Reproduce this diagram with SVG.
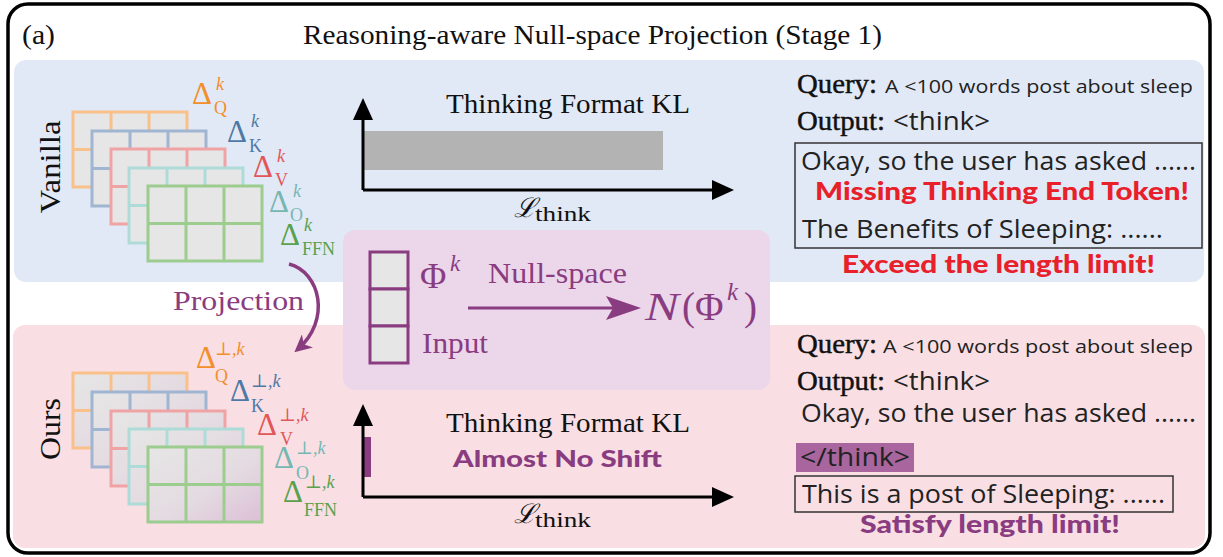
<svg xmlns="http://www.w3.org/2000/svg" width="1223" height="557" viewBox="0 0 1223 557">
  <style>
    .serif { font-family: "Liberation Serif", "DejaVu Serif", serif; fill: #111; }
    .lbl { stroke: #111; stroke-width: 0.45; }
    .sans { font-family: "Open Sans", "Lato", "DejaVu Sans", sans-serif; fill: #222; }
    .hand { font-family: "Lato", "DejaVu Sans", sans-serif; font-weight: 900; }
    .red { fill: #e8202a; }
    .plum { fill: #8a3c80; }
    .d { font-family: "Liberation Serif", "DejaVu Serif", serif; font-size: 31px; }
    .sup { font-size: 18px; font-style: italic; }
    .sub { font-size: 18px; }
    .grid { stroke-width: 3; }
    .axis { stroke: #000; stroke-width: 3; fill: none; }
    .box { fill: none; stroke: #333; stroke-width: 1.5; }
  </style>
  <defs>
    <linearGradient id="proj-fill" x1="0" y1="0" x2="1" y2="1">
      <stop offset="0" stop-color="#e6e6e6"/>
      <stop offset="0.55" stop-color="#e4dbe1"/>
      <stop offset="1" stop-color="#dcbfd6"/>
    </linearGradient>
    <marker id="plum-head" viewBox="0 0 10 10" refX="8" refY="5" markerWidth="5" markerHeight="5" orient="auto">
      <path d="M0,0 L10,5 L0,10 L3,5 Z" fill="#8a3c80"/>
    </marker>
    <!-- 3x2 weight matrix -->
    <g id="mat-grid">
      <line x1="38" y1="0" x2="38" y2="75"/>
      <line x1="76" y1="0" x2="76" y2="75"/>
      <line x1="0" y1="37.5" x2="114" y2="37.5"/>
    </g>
  </defs>

  <!-- outer frame -->
  <rect x="8" y="4" width="1202" height="549" rx="20" fill="#fff" stroke="#000" stroke-width="3.5"/>

  <!-- title -->
  <text class="serif" x="22" y="44" font-size="27" textLength="33" lengthAdjust="spacingAndGlyphs">(a)</text>
  <text class="serif" x="303" y="44" font-size="28" textLength="579" lengthAdjust="spacingAndGlyphs">Reasoning-aware Null-space Projection (Stage 1)</text>

  <!-- background panels -->
  <rect id="panel-vanilla" x="14" y="60" width="1190" height="222" rx="12" fill="#e2e9f6"/>
  <rect id="panel-ours" x="13" y="325" width="1192" height="223" rx="12" fill="#f9dfe4"/>

  <!-- Vanilla weight stack -->
  <g id="vanilla-stack" class="grid">
    <g transform="translate(73,112)" stroke="#f9c08a"><rect width="114" height="75" fill="#e6e6e6"/><use href="#mat-grid"/></g>
    <g transform="translate(92,131)" stroke="#9fb5d2"><rect width="114" height="75" fill="#e6e6e6"/><use href="#mat-grid"/></g>
    <g transform="translate(111,149)" stroke="#f0a3a5"><rect width="114" height="75" fill="#e6e6e6"/><use href="#mat-grid"/></g>
    <g transform="translate(129,168)" stroke="#addcd8"><rect width="114" height="75" fill="#e6e6e6"/><use href="#mat-grid"/></g>
    <g transform="translate(148,186)" stroke="#9ccc8e"><rect width="114" height="75" fill="#e6e6e6"/><use href="#mat-grid"/></g>
  </g>
  <text class="serif" font-size="30" text-anchor="middle" textLength="93" lengthAdjust="spacingAndGlyphs" transform="translate(60,167) rotate(-90)">Vanilla</text>

  <g id="vanilla-labels">
    <text class="d" fill="#f28e2b" x="192" y="104">Δ<tspan class="sup" x="216" y="90">k</tspan><tspan class="sub" x="214" y="114">Q</tspan></text>
    <text class="d" fill="#4e79a7" x="227" y="142">Δ<tspan class="sup" x="251" y="127">k</tspan><tspan class="sub" x="249" y="152">K</tspan></text>
    <text class="d" fill="#e15759" x="253" y="177">Δ<tspan class="sup" x="277" y="162">k</tspan><tspan class="sub" x="275" y="186">V</tspan></text>
    <text class="d" fill="#76b7b2" x="269" y="212">Δ<tspan class="sup" x="293" y="197">k</tspan><tspan class="sub" x="290" y="221">O</tspan></text>
    <text class="d" fill="#59a14f" x="280" y="245">Δ<tspan class="sup" x="304" y="231">k</tspan><tspan class="sub" x="302" y="255">FFN</tspan></text>
  </g>

  <!-- Ours weight stack -->
  <g id="ours-stack" class="grid">
    <g transform="translate(73,373)" stroke="#f9c08a"><rect width="114" height="75" fill="url(#proj-fill)"/><use href="#mat-grid"/></g>
    <g transform="translate(92,392)" stroke="#9fb5d2"><rect width="114" height="75" fill="url(#proj-fill)"/><use href="#mat-grid"/></g>
    <g transform="translate(111,411)" stroke="#f0a3a5"><rect width="114" height="75" fill="url(#proj-fill)"/><use href="#mat-grid"/></g>
    <g transform="translate(129,429)" stroke="#addcd8"><rect width="114" height="75" fill="url(#proj-fill)"/><use href="#mat-grid"/></g>
    <g transform="translate(148,447)" stroke="#9ccc8e"><rect width="114" height="75" fill="url(#proj-fill)"/><use href="#mat-grid"/></g>
  </g>
  <text class="serif" font-size="30" text-anchor="middle" textLength="62" lengthAdjust="spacingAndGlyphs" transform="translate(60,429) rotate(-90)">Ours</text>

  <g id="ours-labels">
    <text class="d" fill="#f28e2b" x="196" y="368">Δ<tspan class="sup" x="215" y="355">⊥,k</tspan><tspan class="sub" x="215" y="382">Q</tspan></text>
    <text class="d" fill="#4e79a7" x="230" y="401">Δ<tspan class="sup" x="251" y="387">⊥,k</tspan><tspan class="sub" x="251" y="412">K</tspan></text>
    <text class="d" fill="#e15759" x="257" y="435">Δ<tspan class="sup" x="279" y="421">⊥,k</tspan><tspan class="sub" x="280" y="445">V</tspan></text>
    <text class="d" fill="#76b7b2" x="274" y="468">Δ<tspan class="sup" x="296" y="454">⊥,k</tspan><tspan class="sub" x="296" y="479">O</tspan></text>
    <text class="d" fill="#59a14f" x="283" y="502">Δ<tspan class="sup" x="305" y="488">⊥,k</tspan><tspan class="sub" x="304" y="516">FFN</tspan></text>
  </g>

  <!-- projection arrow -->
  <g id="connectors">
    <path d="M289 264 C320 272 332 320 297 350" fill="none" stroke="#8a3c80" stroke-width="3.5" marker-end="url(#plum-head)"/>
  </g>
  <text class="serif plum" x="173" y="310" font-size="28" textLength="131" lengthAdjust="spacingAndGlyphs">Projection</text>

  <!-- null-space box -->
  <g id="null-space">
    <rect x="343" y="230" width="427" height="160" rx="12" fill="#ecd6ea"/>
    <g stroke="#8a3c80" stroke-width="3" fill="#e6e6e6">
      <rect x="370" y="252" width="38" height="37"/>
      <rect x="370" y="289" width="38" height="37"/>
      <rect x="370" y="326" width="38" height="37"/>
    </g>
    <text class="serif plum" x="420" y="288" font-size="36">Φ<tspan x="450" y="271" font-size="23" font-style="italic">k</tspan></text>
    <text class="serif plum" x="488" y="283" font-size="29" textLength="139" lengthAdjust="spacingAndGlyphs">Null-space</text>
    <text class="serif plum" x="422" y="353" font-size="29" textLength="66" lengthAdjust="spacingAndGlyphs">Input</text>
    <line x1="468" y1="308" x2="615" y2="308" stroke="#8a3c80" stroke-width="3"/>
    <path d="M606 296 L641 308 L606 320 L613 308 Z" fill="#8a3c80"/>
    <text class="serif plum" x="645" y="320" font-size="39" font-style="italic" textLength="34" lengthAdjust="spacingAndGlyphs">N</text>
    <text class="serif plum" x="682" y="320" font-size="39">(Φ<tspan x="727" y="300" font-size="25" font-style="italic">k</tspan><tspan x="744" y="320">)</tspan></text>
  </g>

  <!-- KL chart, vanilla -->
  <g id="chart-vanilla">
    <rect x="364" y="131" width="299" height="39" fill="#b3b3b3"/>
    <path class="axis" d="M363 190 V116 M363 190 H716"/>
    <path d="M363 98 L373 120 L353 120 Z"/>
    <path d="M734 190 L712 180 L712 200 Z"/>
    <text class="serif" x="446" y="113" font-size="28" textLength="244" lengthAdjust="spacingAndGlyphs">Thinking Format KL</text>
    <text class="serif" x="514" y="217" font-size="27" font-style="italic">ℒ<tspan x="535" y="221" font-size="22" font-style="normal" textLength="56" lengthAdjust="spacingAndGlyphs">think</tspan></text>
  </g>

  <!-- KL chart, ours -->
  <g id="chart-ours">
    <rect x="364" y="437" width="7" height="40" fill="#8a3c80"/>
    <path class="axis" d="M363 497 V422 M363 497 H716"/>
    <path d="M363 404 L373 426 L353 426 Z"/>
    <path d="M734 497 L712 487 L712 507 Z"/>
    <text class="serif" x="446" y="432" font-size="28" textLength="244" lengthAdjust="spacingAndGlyphs">Thinking Format KL</text>
    <text class="hand plum" x="453" y="467" font-size="23" textLength="209" lengthAdjust="spacingAndGlyphs">Almost No Shift</text>
    <text class="serif" x="514" y="523" font-size="27" font-style="italic">ℒ<tspan x="535" y="527" font-size="22" font-style="normal" textLength="56" lengthAdjust="spacingAndGlyphs">think</tspan></text>
  </g>

  <!-- sample output, vanilla -->
  <g id="sample-vanilla">
    <text class="serif lbl" x="797" y="93" font-size="27" textLength="80" lengthAdjust="spacingAndGlyphs">Query:</text>
    <text class="sans" x="885" y="93" font-size="19" textLength="308" lengthAdjust="spacingAndGlyphs">A &lt;100 words post about sleep</text>
    <text class="serif lbl" x="797" y="130" font-size="27" textLength="88" lengthAdjust="spacingAndGlyphs">Output:</text>
    <text class="sans" x="893" y="130" font-size="25" textLength="97" lengthAdjust="spacingAndGlyphs">&lt;think&gt;</text>
    <rect class="box" x="795" y="143" width="407" height="105"/>
    <text class="sans" x="801" y="170" font-size="26" textLength="395" lengthAdjust="spacingAndGlyphs">Okay, so the user has asked ......</text>
    <text class="hand red" x="815" y="200" font-size="24" textLength="374" lengthAdjust="spacingAndGlyphs">Missing Thinking End Token!</text>
    <text class="sans" x="802" y="238" font-size="26" textLength="361" lengthAdjust="spacingAndGlyphs">The Benefits of Sleeping: ......</text>
    <text class="hand red" x="842" y="273" font-size="24" textLength="313" lengthAdjust="spacingAndGlyphs">Exceed the length limit!</text>
  </g>

  <!-- sample output, ours -->
  <g id="sample-ours">
    <text class="serif lbl" x="797" y="353" font-size="27" textLength="80" lengthAdjust="spacingAndGlyphs">Query:</text>
    <text class="sans" x="883" y="353" font-size="19" textLength="310" lengthAdjust="spacingAndGlyphs">A &lt;100 words post about sleep</text>
    <text class="serif lbl" x="797" y="390" font-size="27" textLength="88" lengthAdjust="spacingAndGlyphs">Output:</text>
    <text class="sans" x="893" y="390" font-size="25" textLength="97" lengthAdjust="spacingAndGlyphs">&lt;think&gt;</text>
    <text class="sans" x="801" y="422" font-size="26" textLength="395" lengthAdjust="spacingAndGlyphs">Okay, so the user has asked ......</text>
    <rect x="796" y="443" width="118" height="29" fill="#a9659e"/>
    <text class="sans" x="800" y="466" font-size="26" textLength="110" lengthAdjust="spacingAndGlyphs">&lt;/think&gt;</text>
    <rect class="box" x="795" y="476" width="378" height="36"/>
    <text class="sans" x="802" y="503" font-size="26" textLength="363" lengthAdjust="spacingAndGlyphs">This is a post of Sleeping: ......</text>
    <text class="hand plum" x="860" y="533" font-size="24" textLength="260" lengthAdjust="spacingAndGlyphs">Satisfy length limit!</text>
  </g>
</svg>
